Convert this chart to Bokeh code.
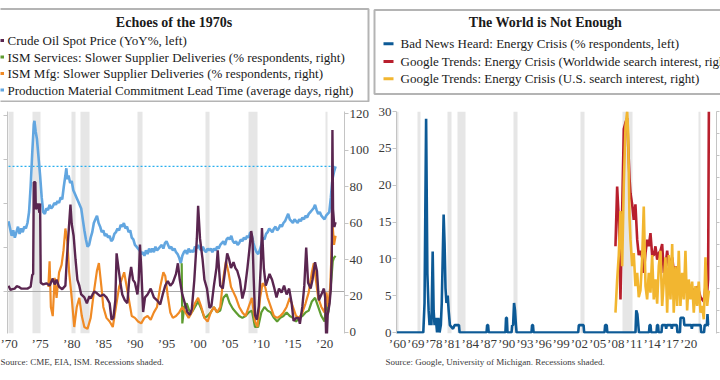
from bokeh.plotting import figure
from bokeh.models import Range1d, LinearAxis, FixedTicker, Title, CustomJSTickFormatter
from bokeh.layouts import column, row
from bokeh.embed import file_html
from bokeh.resources import INLINE
from bokeh.core.properties import value

FONT = "Liberation Serif"
TXT = "#3a3a3a"

# ---------------- left panel data ----------------
left_title = "Echoes of the 1970s"
left_labels = ["Crude Oil Spot Price (YoY%, left)",
               "ISM Services: Slower Supplier Deliveries (% respondents, right)",
               "ISM Mfg: Slower Supplier Deliveries (% respondents, right)",
               "Production Material Commitment Lead Time (average days, right)"]
left_source = "Source: CME, EIA, ISM. Recessions shaded."
left_ticks = [1970, 1975, 1980, 1985, 1990, 1995, 2000, 2005, 2010, 2015, 2020]
left_tick_labels = ["\u201970", "\u201975", "\u201980", "\u201985", "\u201990", "\u201995",
                    "\u201900", "\u201905", "\u201910", "\u201915", "\u201920"]
left_right_ticks = [0, 20, 40, 60, 80, 100, 120]
left_left_ticks = [-75, 0, 75, 150, 225, 300]
rec_start = [1969.92, 1973.85, 1980.00, 1981.45, 1990.45, 2001.17, 2007.92, 2020.10]
rec_end = [1970.85, 1975.10, 1980.55, 1982.85, 1991.20, 2001.85, 2009.45, 2020.40]

lead_year = [1970.0, 1970.25, 1970.5, 1970.75, 1971.0, 1971.25, 1971.5, 1971.75,
             1972.0, 1972.25, 1972.5, 1972.75, 1973.0, 1973.25, 1973.5, 1973.75,
             1974.0, 1974.1, 1974.3, 1974.5, 1974.75, 1975.0, 1975.25, 1975.5, 1975.75,
             1976.0, 1976.25, 1976.5, 1976.75, 1977.0, 1977.25, 1977.5, 1977.75,
             1978.0, 1978.25, 1978.5, 1978.75, 1979.0, 1979.15, 1979.3, 1979.5, 1979.75,
             1980.0, 1980.25, 1980.5, 1980.75, 1981.0, 1981.25, 1981.5, 1981.75,
             1982.0, 1982.25, 1982.5, 1982.75, 1983.0, 1983.25, 1983.5, 1983.75,
             1984.0, 1984.25, 1984.5, 1984.75, 1985.0, 1985.25, 1985.5, 1985.75,
             1986.0, 1986.25, 1986.5, 1986.75, 1987.0, 1987.25, 1987.5, 1987.75,
             1988.0, 1988.25, 1988.5, 1988.75, 1989.0, 1989.25, 1989.5, 1989.75,
             1990.0, 1990.25, 1990.5, 1990.75, 1991.0, 1991.25, 1991.5, 1991.75,
             1992.0, 1992.25, 1992.5, 1992.75, 1993.0, 1993.25, 1993.5, 1993.75,
             1994.0, 1994.25, 1994.5, 1994.75, 1995.0, 1995.25, 1995.5, 1995.75,
             1996.0, 1996.25, 1996.5, 1996.75, 1997.0, 1997.25, 1997.5, 1997.75,
             1998.0, 1998.25, 1998.5, 1998.75, 1999.0, 1999.25, 1999.5, 1999.75,
             2000.0, 2000.25, 2000.5, 2000.75, 2001.0, 2001.25, 2001.5, 2001.75,
             2002.0, 2002.25, 2002.5, 2002.75, 2003.0, 2003.25, 2003.5, 2003.75,
             2004.0, 2004.25, 2004.5, 2004.75, 2005.0, 2005.25, 2005.5, 2005.75,
             2006.0, 2006.25, 2006.5, 2006.75, 2007.0, 2007.25, 2007.5, 2007.75,
             2008.0, 2008.25, 2008.5, 2008.75, 2009.0, 2009.25, 2009.5, 2009.75,
             2010.0, 2010.25, 2010.5, 2010.75, 2011.0, 2011.25, 2011.5, 2011.75,
             2012.0, 2012.25, 2012.5, 2012.75, 2013.0, 2013.25, 2013.5, 2013.75,
             2014.0, 2014.25, 2014.5, 2014.75, 2015.0, 2015.25, 2015.5, 2015.75,
             2016.0, 2016.25, 2016.5, 2016.75, 2017.0, 2017.25, 2017.5, 2017.75,
             2018.0, 2018.25, 2018.5, 2018.75, 2019.0, 2019.25, 2019.5, 2019.75,
             2020.0, 2020.25, 2020.5, 2020.75, 2021.0, 2021.25, 2021.5, 2021.75]
lead_days = [61, 57, 53, 56, 52, 55, 58, 54,
             57, 55, 58, 57, 60, 66, 80, 98,
             114, 116, 110, 106, 96, 86, 74, 66, 65,
             68, 67, 70, 68, 69, 71, 70, 72,
             71, 74, 73, 80, 86, 90, 84, 86, 82,
             83, 78, 76, 74, 72, 70, 68, 62,
             56, 51, 47, 48, 52, 55, 60, 62,
             64, 60, 58, 55, 56, 53, 54, 52,
             53, 50, 51, 54, 55, 57, 56, 59,
             58, 60, 57, 58, 55, 56, 52, 51,
             48, 47, 46, 45, 43, 44, 42, 45,
             43, 46, 44, 46, 44, 47, 45, 46,
             47, 48, 46, 49, 50, 48, 46, 47,
             45, 46, 44, 43, 41, 38, 42, 44,
             45, 43, 46, 44, 45, 44, 47, 46,
             48, 46, 45, 47, 45, 44, 46, 45,
             46, 44, 46, 45, 47, 46, 48, 49,
             50, 48, 51, 52, 51, 53, 50, 49,
             50, 48, 49, 51, 50, 52, 51, 53,
             52, 55, 53, 49, 46, 44, 43, 45,
             48, 52, 51, 54, 55, 57, 56, 55,
             57, 58, 56, 57, 59, 58, 60, 61,
             63, 65, 62, 61, 60, 62, 61, 60,
             62, 61, 63, 62, 64, 63, 65, 66,
             67, 68, 70, 67, 65, 66, 64, 63,
             62, 64, 65, 66, 74, 84, 88, 91]

oil_year = [1970.0, 1970.3, 1970.6, 1971.0, 1971.3, 1971.6, 1972.0, 1972.5, 1973.0, 1973.5,
            1973.75, 1973.9, 1974.0, 1974.25, 1974.32, 1974.6, 1974.9, 1975.0, 1975.1, 1975.5,
            1976.0, 1976.5, 1977.0, 1977.3, 1977.6, 1978.0, 1978.5, 1979.0, 1979.2, 1979.5,
            1979.8, 1980.0, 1980.3, 1980.6, 1980.9, 1981.2, 1981.5, 1981.8, 1982.0, 1982.4,
            1982.8, 1983.0, 1983.3, 1983.6, 1984.0, 1984.5, 1985.0, 1985.5, 1986.0, 1986.3,
            1986.6, 1986.9, 1987.1, 1987.4, 1987.7, 1988.0, 1988.4, 1988.8, 1989.1, 1989.4,
            1989.7, 1990.0, 1990.4, 1990.6, 1990.8, 1991.0, 1991.3, 1991.6, 1992.0, 1992.5,
            1993.0, 1993.5, 1994.0, 1994.4, 1994.8, 1995.2, 1995.6, 1996.0, 1996.5, 1996.8,
            1997.1, 1997.5, 1997.9, 1998.3, 1998.7, 1999.0, 1999.4, 1999.8, 2000.0, 2000.3,
            2000.7, 2001.0, 2001.4, 2001.8, 2002.1, 2002.5, 2002.9, 2003.1, 2003.5, 2003.9,
            2004.2, 2004.6, 2004.9, 2005.2, 2005.6, 2005.9, 2006.2, 2006.6, 2007.0, 2007.4,
            2007.8, 2008.1, 2008.4, 2008.6, 2008.8, 2009.0, 2009.3, 2009.6, 2009.9, 2010.1,
            2010.4, 2010.7, 2011.0, 2011.3, 2011.7, 2012.0, 2012.4, 2012.8, 2013.2, 2013.6,
            2014.0, 2014.4, 2014.8, 2015.1, 2015.5, 2015.9, 2016.1, 2016.5, 2016.8, 2017.1,
            2017.4, 2017.8, 2018.1, 2018.5, 2018.8, 2019.1, 2019.5, 2019.9, 2020.1, 2020.3,
            2020.5, 2020.8, 2021.0, 2021.15, 2021.25, 2021.35, 2021.55, 2021.75]
oil_pct = [10, 3, 4, 5, 9, 8, 5, 5, 5, 8,
           28, 30, 186, 186, 140, 150, 134, 150, 15, 12,
           14, 10, 22, 12, 20, 8, 4, 10, 50, 100,
           148, 115, 95, 55, 20, 10, -5, -8, -10, -20,
           -8, -12, -5, 0, -3, -8, -5, -10, -20, -48,
           -45, -15, 65, 40, 15, -5, -15, -20, 20, 42,
           20, 15, -5, 20, 80, 40, -35, -10, -5, 5,
           -10, -15, -22, -5, 10, 18, 10, 15, 30, 48,
           20, -5, -20, -35, -40, -30, 20, 90, 146, 90,
           55, 20, 5, -28, -25, 10, 40, 70, 10, 5,
           30, 65, 55, 40, 50, 40, 35, 20, -12, 5,
           40, 70, 103, 90, 20, -40, -48, -25, 40, 108,
           40, 10, 20, 30, 20, 8, -10, 5, -2, 10,
           -5, 5, -20, -50, -45, -45, -55, -25, 10, 75,
           15, 5, 20, 50, 35, -15, -5, 5, -10, -95,
           -40, -20, 5, 60, 275, 140, 110, 118]

mfg_year = [1976.3, 1976.5, 1976.7, 1977.0, 1977.3, 1977.6, 1978.0, 1978.4, 1978.7, 1979.0,
            1979.3, 1979.6, 1980.0, 1980.4, 1980.8, 1981.2, 1981.6, 1982.0, 1982.5, 1983.0,
            1983.5, 1984.0, 1984.3, 1984.7, 1985.0, 1985.5, 1986.0, 1986.5, 1987.0, 1987.5,
            1988.0, 1988.3, 1988.7, 1989.0, 1989.5, 1990.0, 1990.5, 1991.0, 1991.5, 1992.0,
            1992.5, 1993.0, 1993.5, 1994.0, 1994.5, 1994.8, 1995.2, 1995.6, 1996.0, 1996.5,
            1997.0, 1997.5, 1998.0, 1998.5, 1999.0, 1999.5, 2000.0, 2000.5, 2001.0, 2001.5,
            2002.0, 2002.5, 2003.0, 2003.5, 2004.0, 2004.4, 2004.8, 2005.2, 2005.6, 2006.0,
            2006.5, 2007.0, 2007.5, 2008.0, 2008.5, 2009.0, 2009.4, 2009.8, 2010.2, 2010.6,
            2011.0, 2011.5, 2012.0, 2012.5, 2013.0, 2013.5, 2014.0, 2014.5, 2015.0, 2015.5,
            2016.0, 2016.5, 2017.0, 2017.5, 2018.0, 2018.3, 2018.7, 2019.0, 2019.5, 2020.0,
            2020.3, 2020.6, 2020.9, 2021.1, 2021.3, 2021.5, 2021.75]
mfg_pct = [25, 39, 14, 9, 30, 19, 33, 37, 45, 57,
           50, 33, 19, 3, 14, 19, 9, 3, 2, 8,
           22, 34, 38, 25, 14, 8, 6, 3, 14, 25,
           30, 33, 25, 19, 9, 8, 6, 5, 8, 9,
           7, 11, 14, 25, 33, 31, 20, 11, 8, 9,
           11, 14, 11, 8, 11, 16, 19, 14, 8, 6,
           11, 14, 11, 14, 30, 39, 33, 25, 22, 19,
           14, 11, 9, 14, 19, 6, 3, 19, 27, 25,
           19, 14, 9, 8, 9, 11, 14, 19, 14, 9,
           8, 11, 16, 22, 33, 38, 27, 19, 14, 11,
           22, 14, 25, 43, 58, 48, 53]

svc_year = [1997.4, 1997.5, 1997.8, 1998.2, 1998.6, 1999.0, 1999.5, 2000.0, 2000.5, 2001.0,
            2001.5, 2002.0, 2002.5, 2003.0, 2003.5, 2004.0, 2004.5, 2005.0, 2005.5, 2006.0,
            2006.5, 2007.0, 2007.5, 2008.0, 2008.5, 2009.0, 2009.5, 2010.0, 2010.5, 2011.0,
            2011.5, 2012.0, 2012.5, 2013.0, 2013.5, 2014.0, 2014.5, 2015.0, 2015.5, 2016.0,
            2016.5, 2017.0, 2017.5, 2018.0, 2018.5, 2019.0, 2019.5, 2020.0, 2020.3, 2020.6,
            2020.9, 2021.1, 2021.3, 2021.5, 2021.75]
svc_pct = [38, 5, 14, 16, 12, 11, 14, 17, 13, 8,
           9, 11, 14, 11, 12, 19, 21, 16, 13, 11,
           9, 8, 9, 11, 12, 3, 3, 11, 14, 12,
           11, 8, 6, 8, 9, 11, 9, 8, 6, 8,
           9, 11, 12, 17, 19, 14, 9, 6, 17, 11,
           22, 30, 39, 41, 42]

# ---------------- right panel data ----------------
right_title = "The World is Not Enough"
right_labels = ["Bad News Heard: Energy Crisis (% respondents, left)",
                "Google Trends: Energy Crisis (Worldwide search interest, right)",
                "Google Trends: Energy Crisis (U.S. search interest, right)"]
right_source = "Source: Google, University of Michigan. Recessions shaded."
right_tick_pos = [1971.98, 1974.89, 1977.79, 1980.70, 1983.60, 1986.51, 1989.42, 1992.32, 1995.23,
                  1998.13, 2001.04, 2003.95, 2006.85, 2009.76, 2012.66, 2015.57, 2018.48]
right_tick_labels = ["\u201960", "\u201969", "\u201978", "\u201981", "\u201984", "\u201987",
                     "\u201990", "\u201993", "\u201996", "\u201999", "\u201902", "\u201905",
                     "\u201908", "\u201911", "\u201914", "\u201917", "\u201920"]
right_left_ticks = [0, 5, 10, 15, 20, 25, 30]
right_right_ticks = [0, 10, 20, 30, 40, 50, 60, 70, 80, 90, 100]
rec2_start = [1971.82, 1975.17, 1980.00, 1981.50, 1990.50, 2001.20, 2007.92, 2020.08]
rec2_end = [1972.14, 1975.65, 1980.55, 1982.85, 1991.15, 2001.85, 2009.50, 2020.40]

bn_x = [1971.82, 1976.10, 1976.30, 1976.55, 1976.75, 1976.95, 1977.10, 1977.25, 1977.40, 1977.60,
        1977.75, 1977.90, 1978.10, 1978.30, 1978.50, 1978.70, 1978.90, 1979.05, 1979.20, 1979.35,
        1979.50, 1979.65, 1979.80, 1980.00, 1980.15, 1980.35, 1980.85, 1981.10, 1981.60, 1981.80,
        1981.90, 1986.20, 1986.30, 1986.45, 1986.55, 1989.22, 1989.32, 1989.45, 1989.55, 1990.20,
        1990.30, 1990.45, 1990.60, 1990.75, 1990.90, 1991.00, 1993.38, 1993.48, 1993.62, 1993.72,
        2000.85, 2000.95, 2001.70, 2001.80, 2005.05, 2005.15, 2005.40, 2005.50, 2010.00, 2010.12,
        2010.30, 2010.45, 2010.55, 2012.15, 2012.25, 2012.40, 2012.50, 2013.35, 2013.45, 2013.60,
        2013.70, 2014.15, 2014.25, 2014.80, 2014.90, 2015.00, 2015.70, 2015.80, 2015.90, 2016.60,
        2016.70, 2017.10, 2017.20, 2017.70, 2017.80, 2018.90, 2019.00, 2019.10, 2020.40, 2020.50,
        2020.95, 2021.05, 2021.40, 2021.50, 2021.60, 2021.72]
bn_val = [0, 0, 4, 29, 8, 3, 1, 2, 1, 11,
          3, 1, 2, 0, 2, 0, 1, 4, 10, 16,
          12, 6, 4, 5, 3, 1, 0.5, 1, 1, 1,
          0, 0, 1, 1, 0, 0, 2, 2, 0, 0,
          1, 1, 4, 3, 1, 0, 0, 1, 1, 0,
          0, 1, 1, 0, 0, 1, 1, 0, 0, 3,
          2.5, 1, 0, 0, 1, 1, 0, 0, 1, 1,
          0, 0, 1, 1, 0.5, 1, 1, 0.5, 1, 1,
          0, 0, 2, 2, 1, 1, 0.5, 1, 1, 0,
          0, 1, 1, 2.5, 1, 1]

gt_x = [2006.80, 2007.07, 2007.33, 2007.60, 2007.87, 2008.13, 2008.40, 2008.67, 2008.83, 2009.04,
        2009.20, 2009.47, 2009.72, 2009.99, 2010.27, 2010.52, 2010.79, 2011.07, 2011.32, 2011.60,
        2011.86, 2012.12, 2012.39, 2012.66, 2012.92, 2013.19, 2013.46, 2013.72, 2013.99, 2014.26,
        2014.52, 2014.79, 2015.06, 2015.32, 2015.59, 2015.86, 2016.11, 2016.39, 2016.66, 2016.91,
        2017.18, 2017.46, 2017.71, 2017.98, 2018.25, 2018.51, 2018.78, 2019.05, 2019.31, 2019.58,
        2019.85, 2020.10, 2020.38, 2020.65, 2020.91, 2021.18, 2021.45, 2021.60, 2021.72]
gt_world = [39, 66, 51, 15, 55, 92, 95, 97, 85, 70,
            63, 58, 51, 58, 42, 35, 37, 34, 27, 36,
            42, 39, 45, 35, 35, 39, 33, 36, 37, 40,
            27, 30, 37, 30, 32, 34, 28, 30, 26, 25,
            24, 22, 21, 20, 18, 17, 19, 20, 18, 16,
            21, 19, 16, 15, 14, 21, 18, 24, 100]
gt_us = [9, 24, 35, 55, 30, 67, 93, 100, 90, 52,
         42, 30, 36, 21, 27, 16, 19, 34, 57, 21,
         15, 27, 18, 35, 15, 24, 13, 30, 37, 12,
         23, 34, 9, 35, 15, 40, 9, 30, 12, 37,
         12, 27, 15, 37, 10, 24, 15, 23, 9, 21,
         12, 23, 9, 12, 6, 34, 12, 16, 19]

for a, b in [(lead_year, lead_days), (oil_year, oil_pct), (mfg_year, mfg_pct), (svc_year, svc_pct),
             (bn_x, bn_val), (gt_x, gt_world), (gt_x, gt_us)]:
    assert len(a) == len(b), (len(a), len(b))

# ---------------- colours ----------------
C_OIL = "#5a2650"
C_SVC = "#5e9c30"
C_MFG = "#f08a24"
C_LEAD = "#62a6e0"
C_DOT = "#2aafee"
C_BN = "#0d5a96"
C_WORLD = "#b81f2d"
C_US = "#f2b630"
C_REC = "#e6e6e6"
C_AX = "#c4c4c4"
C_BOX = "#b4b4b4"
LEG_SIZE = "13px"
TICK_SIZE = "13px"

# ---------------- header (legend boxes) ----------------
HDR_H = 102
hdr = figure(width=720, height=HDR_H, x_range=Range1d(0, 720), y_range=Range1d(HDR_H, 0),
             x_axis_type=None, y_axis_type=None, toolbar_location=None,
             output_backend="svg", min_border=0)
hdr.outline_line_color = None
hdr.grid.visible = False
hdr.line(x=[-10, 368, 368, -10], y=[8.5, 8.5, 101, 101], line_color=C_BOX, line_width=2)
hdr.line(x=[730, 374, 374, 730], y=[9.5, 9.5, 93.5, 93.5], line_color=C_BOX, line_width=2)
hdr.text(x=[173.5], y=[21.5], text=[left_title], text_font=value(FONT), text_font_style="bold",
         text_font_size="14px", text_align="center", text_baseline="middle", text_color="#1a1a1a")
hdr.text(x=[545], y=[22], text=[right_title], text_font=value(FONT), text_font_style="bold",
         text_font_size="14px", text_align="center", text_baseline="middle", text_color="#1a1a1a")
ly = [40, 56.5, 73, 89.5]
hdr.segment(x0=[-7] * 4, x1=[3.5] * 4, y0=ly, y1=ly, line_color=[C_OIL, C_SVC, C_MFG, C_LEAD], line_width=3)
hdr.text(x=[7] * 4, y=ly, text=left_labels, text_font=value(FONT), text_font_size=LEG_SIZE,
         text_align="left", text_baseline="middle", text_color="#1a1a1a")
ry = [43.3, 61, 78.3]
hdr.segment(x0=[383] * 3, x1=[393] * 3, y0=ry, y1=ry, line_color=[C_BN, C_WORLD, C_US], line_width=3)
hdr.text(x=[400] * 3, y=ry, text=right_labels, text_font=value(FONT), text_font_size=LEG_SIZE,
         text_align="left", text_baseline="middle", text_color="#1a1a1a")

NO_LABELS = CustomJSTickFormatter(code="return '';")


def style_axis(ax, tick_out=4, standoff=1, labels=True):
    ax.axis_line_color = C_AX
    ax.major_tick_line_color = C_AX
    ax.major_tick_out = tick_out
    ax.major_tick_in = 0
    ax.minor_tick_line_color = None
    ax.major_label_text_font = FONT
    ax.major_label_text_font_size = TICK_SIZE
    ax.major_label_text_color = TXT if labels else None
    ax.major_label_standoff = standoff
    if not labels:
        ax.formatter = NO_LABELS


def style_xaxis(ax, ticks, labels):
    ax.ticker = FixedTicker(ticks=ticks)
    ax.formatter = CustomJSTickFormatter(
        args=dict(pos=ticks, labels=labels),
        code="const i = pos.findIndex(t => Math.abs(t - tick) < 0.01); return i >= 0 ? labels[i] : '';")
    ax.axis_line_color = None
    ax.major_tick_line_color = None
    ax.minor_tick_line_color = None
    ax.major_tick_out = 0
    ax.major_tick_in = 0
    ax.major_label_text_font = FONT
    ax.major_label_text_font_size = TICK_SIZE
    ax.major_label_text_color = TXT
    ax.major_label_standoff = 2


def source_title(text, offset):
    return Title(text=text, align="left", offset=offset, standoff=3, text_font=FONT,
                 text_font_size="9px", text_font_style="normal", text_color=TXT)


CH_H = 380 - HDR_H
LEFT_W = 374

# ---------------- left chart ----------------
left = figure(width=LEFT_W, height=CH_H, x_range=Range1d(1969.84, 2023.16), y_range=Range1d(-0.55, 121.1),
              y_axis_location="right", toolbar_location=None, output_backend="svg",
              min_border_left=7, min_border_right=LEFT_W - 344, min_border_top=111 - HDR_H,
              min_border_bottom=CH_H - (111 - HDR_H) - 222)
left.extra_y_ranges = {"oil": Range1d(-71.5, 306.6)}
left.outline_line_color = None
left.grid.visible = False
style_axis(left.yaxis[0])
left.yaxis[0].ticker = FixedTicker(ticks=left_right_ticks)
lax = LinearAxis(y_range_name="oil", ticker=FixedTicker(ticks=left_left_ticks))
style_axis(lax, tick_out=4, standoff=0, labels=False)
left.add_layout(lax, "left")
style_xaxis(left.xaxis[0], left_ticks, left_tick_labels)

left.vstrip(x0=rec_start, x1=rec_end, fill_color=C_REC, line_color=None)
left.hspan(y=[0], line_color="#aaaaaa", line_width=1, y_range_name="oil")
left.line(x=[lead_year[0], lead_year[-1]], y=[lead_days[-1], lead_days[-1]],
          line_color=C_DOT, line_width=1.2, line_dash="2 2")
left.line(lead_year, lead_days, line_color=C_LEAD, line_width=2.6)
left.line(svc_year, svc_pct, line_color=C_SVC, line_width=2.2)
left.line(mfg_year, mfg_pct, line_color=C_MFG, line_width=2.2)
left.line(oil_year, oil_pct, line_color=C_OIL, line_width=2.4, y_range_name="oil")
left.add_layout(source_title(left_source, -7), "below")

# ---------------- right chart ----------------
RIGHT_W = 720 - LEFT_W
right = figure(width=RIGHT_W, height=CH_H, x_range=Range1d(1971.82, 2022.94), y_range=Range1d(-0.135, 30.0),
               toolbar_location=None, output_backend="svg",
               min_border_left=396 - LEFT_W, min_border_right=4, min_border_top=110 - HDR_H,
               min_border_bottom=CH_H - (110 - HDR_H) - 224)
right.extra_y_ranges = {"gt": Range1d(-0.45, 100)}
right.outline_line_color = None
right.grid.visible = False
style_axis(right.yaxis[0])
right.yaxis[0].ticker = FixedTicker(ticks=right_left_ticks)
rax = LinearAxis(y_range_name="gt", ticker=FixedTicker(ticks=right_right_ticks))
style_axis(rax, tick_out=3, standoff=0, labels=False)
right.add_layout(rax, "right")
style_xaxis(right.xaxis[0], right_tick_pos, right_tick_labels)

right.vstrip(x0=rec2_start, x1=rec2_end, fill_color=C_REC, line_color=None)
right.line(gt_x, gt_world, line_color=C_WORLD, line_width=2.6, y_range_name="gt")
right.line(gt_x, gt_us, line_color=C_US, line_width=2.6, y_range_name="gt")
right.line(bn_x, bn_val, line_color=C_BN, line_width=2.6)
right.add_layout(source_title(right_source, -11), "below")

layout = column(hdr, row(left, right))
open("out.html", "w").write(file_html(layout, INLINE))
